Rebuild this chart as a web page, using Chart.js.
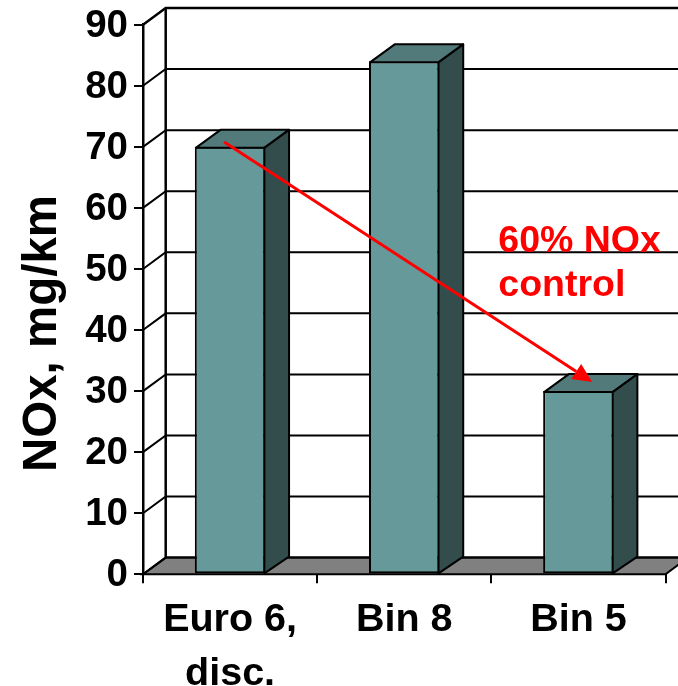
<!DOCTYPE html>
<html>
<head>
<meta charset="utf-8">
<title>NOx, mg/km</title>
<script src="https://cdn.jsdelivr.net/npm/chart.js@4"></script>
<style>
  html, body { margin: 0; padding: 0; background: #fff; }
  canvas { display: block; }
</style>
</head>
<body>
<canvas id="myChart" width="678" height="686"></canvas>
<script>
const categories = [["Euro 6,", "disc."], "Bin 8", "Bin 5"];
const noxValues = [70, 84, 30];
const yTicks = [0, 10, 20, 30, 40, 50, 60, 70, 80, 90];
const yTitle = "NOx, mg/km";

// arrow ends and note lines, as [category index, NOx value]
const arrowFrom = [-0.034, 70.8];
const arrowTo = [2.079, 31.5];
const noteLines = [["60% NOx", 1.54, 52.8], ["control", 1.54, 45.6]];

const FONT = '"Liberation Sans", Arial, sans-serif';
const DX = 22.7, DY = 16.7; // depth of the box
const BAR_DX = 24.7, BAR_DY = 18; // bars stick out a little further

function poly(ctx, pts, fill) {
  ctx.beginPath();
  pts.forEach((p, i) => i ? ctx.lineTo(p[0], p[1]) : ctx.moveTo(p[0], p[1]));
  ctx.closePath();
  ctx.fillStyle = fill;
  ctx.fill();
  ctx.stroke();
}

const box3d = {
  id: 'box3d',
  // back wall, side wall and floor
  beforeDatasetsDraw(chart) {
    const { ctx, chartArea: a, scales: { y } } = chart;
    ctx.save();
    ctx.strokeStyle = '#000';
    ctx.lineWidth = 2;
    poly(ctx, [[a.left, a.bottom], [a.left + DX, a.bottom - DY], [a.right + DX, a.bottom - DY], [a.right, a.bottom]], '#808080');
    yTicks.forEach(v => {
      const py = y.getPixelForValue(v);
      ctx.lineWidth = v === 90 ? 2.5 : 2;
      ctx.beginPath();
      ctx.moveTo(a.left, py);
      ctx.lineTo(a.left + DX, py - DY);
      ctx.lineTo(a.right + DX, py - DY);
      ctx.stroke();
    });
    ctx.lineWidth = 2.5;
    ctx.beginPath();
    ctx.moveTo(a.left + DX, a.bottom - DY);
    ctx.lineTo(a.left + DX, y.getPixelForValue(90) - DY);
    ctx.stroke();
    ctx.restore();
  },
  // bar tops and sides, then the arrow and its note
  afterDatasetsDraw(chart) {
    const { ctx, scales: { x, y } } = chart;
    ctx.save();
    ctx.strokeStyle = '#000';
    ctx.lineWidth = 2;
    ctx.lineJoin = 'round';
    chart.getDatasetMeta(0).data.forEach(bar => {
      const l = bar.x - bar.width / 2 + 1, r = bar.x + bar.width / 2 - 1;
      const t = bar.y + 1, b = bar.base;
      poly(ctx, [[l, t], [l + BAR_DX, t - BAR_DY], [r + BAR_DX, t - BAR_DY], [r, t]], '#527a7a');
      poly(ctx, [[r, t], [r + BAR_DX, t - BAR_DY], [r + BAR_DX, b - DY], [r, b]], '#334d4d');
    });

    const x0 = x.getPixelForValue(arrowFrom[0]), y0 = y.getPixelForValue(arrowFrom[1]);
    const x1 = x.getPixelForValue(arrowTo[0]), y1 = y.getPixelForValue(arrowTo[1]);
    const ang = Math.atan2(y1 - y0, x1 - x0);
    const hl = 19, hw = 9;
    const bx = x1 - hl * Math.cos(ang), by = y1 - hl * Math.sin(ang);
    ctx.strokeStyle = '#ff0000';
    ctx.fillStyle = '#ff0000';
    ctx.lineWidth = 3;
    ctx.beginPath();
    ctx.moveTo(x0, y0);
    ctx.lineTo(bx, by);
    ctx.stroke();
    ctx.beginPath();
    ctx.moveTo(x1, y1);
    ctx.lineTo(bx + hw * Math.sin(ang), by - hw * Math.cos(ang));
    ctx.lineTo(bx - hw * Math.sin(ang), by + hw * Math.cos(ang));
    ctx.closePath();
    ctx.fill();

    ctx.font = 'bold 37.5px ' + FONT;
    ctx.textAlign = 'left';
    ctx.textBaseline = 'alphabetic';
    noteLines.forEach(n => ctx.fillText(n[0], x.getPixelForValue(n[1]), y.getPixelForValue(n[2])));

    // axis title, rotated
    ctx.fillStyle = '#000';
    ctx.font = 'bold 47.5px ' + FONT;
    ctx.textAlign = 'center';
    ctx.translate(56, 333.5);
    ctx.rotate(-Math.PI / 2);
    ctx.fillText(yTitle, 0, 0);
    ctx.restore();
  }
};

new Chart(document.getElementById('myChart').getContext('2d'), {
  type: 'bar',
  data: {
    labels: categories,
    datasets: [{
      data: noxValues,
      backgroundColor: '#669999',
      borderColor: '#000',
      borderWidth: 2,
      borderSkipped: false,
      barPercentage: 0.405,
      categoryPercentage: 1
    }]
  },
  options: {
    responsive: false,
    animation: false,
    layout: { padding: { top: 24.7, right: 12.5, left: 0, bottom: 0 } },
    plugins: { legend: { display: false }, tooltip: { enabled: false } },
    scales: {
      x: {
        // fixed axis box, no room added for the outer labels
        afterFit(s) { s.height = 111.7; s.paddingLeft = 0; s.paddingRight = 0; },
        border: { color: '#000', width: 2 },
        grid: { drawOnChartArea: false, color: '#000', lineWidth: 2, tickLength: 9, offset: true },
        ticks: {
          color: '#000',
          padding: 10,
          maxRotation: 0,
          autoSkip: false,
          font: { family: FONT, size: 39.5, weight: 'bold', lineHeight: 1.37 }
        }
      },
      y: {
        min: 0,
        max: 90,
        afterFit(s) { s.width = 143; s.paddingTop = 0; s.paddingBottom = 0; },
        afterBuildTicks(s) { s.ticks = yTicks.map(v => ({ value: v })); },
        border: { color: '#000', width: 2.5 },
        grid: { drawOnChartArea: false, color: '#000', lineWidth: 2, tickLength: 9 },
        ticks: {
          color: '#000',
          padding: 6,
          labelOffset: 1.5,
          font: { family: FONT, size: 38.5, weight: 'bold' }
        }
      }
    }
  },
  plugins: [box3d]
});
</script>
</body>
</html>
